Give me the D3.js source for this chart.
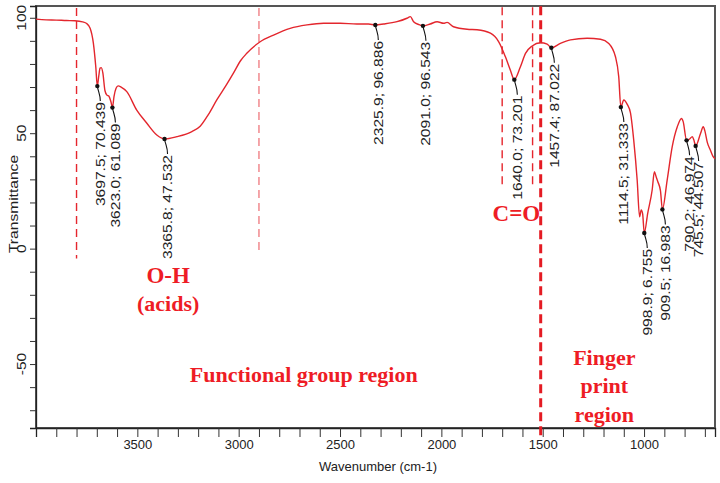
<!DOCTYPE html>
<html lang="en">
<head>
<meta charset="utf-8">
<title>FTIR spectrum</title>
<script src="https://cdn.jsdelivr.net/npm/d3@7"></script>
<style>
	body { margin: 0; background: #fff; }
	svg { display: block; }
</style>
</head>
<body>
<div id="chart"></div>
<script>

// spectrum (wavenumber in cm-1, transmittance in %)
var wavenumber = [4000, 3950, 3900, 3850, 3808, 3770, 3750, 3733, 3717, 3705, 3697.5, 3690, 3684, 3678, 3670,
	3660, 3650, 3640, 3630, 3623, 3615, 3605, 3595, 3580, 3552, 3503, 3454, 3404, 3365.8, 3305, 3231, 3190,
	3150, 3108, 3060, 3026, 2990, 2960, 2894, 2828, 2746, 2663, 2581, 2499, 2417, 2360, 2325.9, 2285, 2219,
	2170, 2153, 2137, 2110, 2091, 2055, 2021, 1989, 1972, 1940, 1873, 1824, 1758, 1717, 1684, 1660, 1640,
	1610, 1585, 1552, 1511, 1478, 1457.4, 1413, 1363, 1281, 1215, 1174, 1141, 1125, 1114.5, 1100, 1083,
	1067, 1051, 1034, 1022, 1014, 1007, 998.9, 982, 960, 949, 940, 932, 919, 909.5, 886, 861, 836, 815,
	807, 790.2, 775, 762, 754, 745.5, 721, 708, 700, 688, 672, 660, 650];
var transmittance = [99.4, 99.1, 99.0, 98.8, 98.7, 98.2, 97.5, 95.5, 89, 78.7, 70.4, 75, 78.2, 78.4, 76,
	68.5, 66.5, 66, 63.5, 61.1, 66, 69.5, 70.5, 70, 68, 60, 54.4, 49.2, 47.5, 48.5, 50.7, 53,
	58, 64.4, 71, 76, 81.5, 84.6, 89.6, 92.5, 95.4, 96.9, 97.6, 97.6, 97.3, 97.3, 96.9, 97.3, 98.3,
	99.8, 100.5, 98.3, 97, 96.5, 97.3, 98.3, 97.6, 98, 96.1, 95, 94.8, 93.3, 89.6, 83.1, 77.4, 73.2,
	78.8, 84.6, 87.8, 89.2, 88.6, 87.0, 88.9, 90.4, 91.1, 90.7, 88.9, 83.1, 74.5, 61.3, 64.4, 62.5,
	58.8, 47, 29.7, 13.8, 16.7, 15, 6.8, 15.3, 25.4, 33.3, 31, 29, 25, 17.0, 29.7, 44.2, 52.8, 56.4,
	55, 46.9, 47.5, 48.5, 47, 44.5, 50, 52.8, 51, 46, 42.5, 40, 39];

// picked peaks
var peakWn = [3697.5, 3623.0, 3365.8, 2325.9, 2091.0, 1640.0, 1457.4, 1114.5, 998.9, 909.5, 790.2, 745.5];
var peakT = [70.4, 61.1, 47.5, 96.9, 96.5, 73.2, 87.0, 61.3, 6.8, 17.0, 46.9, 44.5];
var peakLabels = ["3697.5; 70.439", "3623.0; 61.089", "3365.8; 47.532", "2325.9; 96.886", "2091.0; 96.543",
	"1640.0; 73.201", "1457.4; 87.022", "1114.5; 31.333", "998.9; 6.755", "909.5; 16.983",
	"790.2; 46.974", "745.5; 44.507"];

// axis ticks
var xTicks = d3.range(3900, 650, -100);
var xTickLabels = [3500, 3000, 2500, 2000, 1500, 1000];
var yTicks = d3.range(-70, 101, 10);
var yTickLabels = [100, 50, 0, -50];

// region marker lines (wavenumber, top and bottom in %)
var markerWn = [3800, 2900, 1700, 1550];
var markerTop = [104.2, 104.2, 104.6, 104.6];
var markerBottom = [-4.3, -1.2, 26.6, 26.6];
var splitWn = 1510;

// red notes (text, wavenumber, transmittance at baseline)
var noteText = ["O-H", "(acids)", "Functional group region", "C=O", "Finger", "print", "region"];
var noteWn = [3348, 3348, 2679, 1630, 1196, 1196, 1196];
var noteT = [-14.9, -27.0, -57.8, 12.0, -50.2, -62.6, -75.1];

var w = 720;
var h = 483;

var xScale = d3.scaleLinear()
	.domain([4000, 650])
	.range([36, 715]);
var yScale = d3.scaleLinear()
	.domain([-77.7, 105.1])
	.range([428, 6]);

var svg = d3.select("#chart")
	.append("svg")
	.attr("width", w)
	.attr("height", h)
	.style("font-family", "'Liberation Sans', Arial, sans-serif");

// frame
svg.append("rect")
	.attr("x", 36)
	.attr("y", 6)
	.attr("width", 679)
	.attr("height", 422)
	.attr("fill", "none")
	.attr("stroke", "#555")
	.attr("stroke-width", 2);

// x axis
var xAxis = d3.axisBottom(xScale)
	.tickValues(xTicks)
	.tickSize(9)
	.tickFormat(function(d) {
		return xTickLabels.indexOf(d) >= 0 ? d : "";
	});
var gx = svg.append("g")
	.attr("transform", "translate(0,428)")
	.call(xAxis);
gx.select(".domain").attr("stroke", "#222").attr("stroke-width", 1.3);
gx.selectAll(".tick line").attr("stroke", "#333");
gx.selectAll("text")
	.attr("font-family", "'Liberation Sans', Arial, sans-serif")
	.attr("font-size", "13px")
	.attr("fill", "#222");

// y axis, labels rotated by hand
var yAxis = d3.axisLeft(yScale)
	.tickValues(yTicks)
	.tickSize(6)
	.tickFormat("");
var gy = svg.append("g")
	.attr("transform", "translate(36,0)")
	.call(yAxis);
gy.select(".domain").attr("stroke", "#222").attr("stroke-width", 1.3);
gy.selectAll(".tick line").attr("stroke", "#333");

svg.selectAll(".ylab")
	.data(yTickLabels)
	.enter()
	.append("text")
	.attr("class", "ylab")
	.attr("transform", function(d) {
		return "translate(26," + yScale(d) + ") rotate(-90) scale(1.2,1)";
	})
	.attr("text-anchor", "middle")
	.attr("font-size", "13px")
	.attr("fill", "#222")
	.text(function(d) { return d; });

svg.append("text")
	.attr("transform", "translate(18,204) rotate(-90) scale(1.2,1)")
	.attr("text-anchor", "middle")
	.attr("font-size", "13px")
	.attr("fill", "#222")
	.text("Transmittance");

svg.append("text")
	.attr("x", 378)
	.attr("y", 471)
	.attr("text-anchor", "middle")
	.attr("font-size", "13px")
	.attr("fill", "#222")
	.text("Wavenumber (cm-1)");

// region lines
svg.selectAll(".marker")
	.data(markerWn)
	.enter()
	.append("line")
	.attr("class", "marker")
	.attr("x1", function(d) { return xScale(d); })
	.attr("x2", function(d) { return xScale(d); })
	.attr("y1", function(d, i) { return yScale(markerTop[i]); })
	.attr("y2", function(d, i) { return yScale(markerBottom[i]); })
	.attr("stroke", "#e41b23")
	.attr("stroke-width", 1.4)
	.attr("stroke-dasharray", "8,5")
	.attr("opacity", function(d, i) { return i === 1 ? 0.55 : 0.95; });

svg.append("line")
	.attr("x1", xScale(splitWn))
	.attr("x2", xScale(splitWn))
	.attr("y1", yScale(105))
	.attr("y2", 436)
	.attr("stroke", "#e41b23")
	.attr("stroke-width", 3)
	.attr("stroke-dasharray", "9,5");

// spectrum
var line = d3.line()
	.x(function(d, i) { return xScale(wavenumber[i]); })
	.y(function(d) { return yScale(d); })
	.curve(d3.curveMonotoneX);

svg.append("path")
	.datum(transmittance)
	.attr("d", line)
	.attr("fill", "none")
	.attr("stroke", "#e3262d")
	.attr("stroke-width", 1.4);

// peak markers, leaders and labels
var peaks = svg.selectAll(".peak")
	.data(peakWn)
	.enter()
	.append("g")
	.attr("class", "peak");

peaks.append("path")
	.attr("d", function(d, i) {
		var px = xScale(d), py = yScale(peakT[i]);
		return "M" + px + "," + py + " C" + (px + 1) + "," + (py + 6) + " " + (px + 3) + "," + (py + 8) + " " + (px + 3) + "," + (py + 15);
	})
	.attr("fill", "none")
	.attr("stroke", "#111")
	.attr("stroke-width", 1.1);

peaks.append("circle")
	.attr("cx", function(d) { return xScale(d); })
	.attr("cy", function(d, i) { return yScale(peakT[i]); })
	.attr("r", 2.2)
	.attr("fill", "#111");

peaks.append("text")
	.attr("transform", function(d, i) {
		return "translate(" + (xScale(d) + 7.5) + "," + (yScale(peakT[i]) + 16) + ") rotate(-90) scale(1.2,1)";
	})
	.attr("text-anchor", "end")
	.attr("font-size", "13px")
	.attr("fill", "#222")
	.text(function(d, i) { return peakLabels[i]; });

// red notes
svg.selectAll(".note")
	.data(noteText)
	.enter()
	.append("text")
	.attr("class", "note")
	.attr("x", function(d, i) { return xScale(noteWn[i]); })
	.attr("y", function(d, i) { return yScale(noteT[i]); })
	.attr("text-anchor", "middle")
	.attr("font-family", "'Liberation Serif', 'Times New Roman', serif")
	.attr("font-weight", "bold")
	.attr("font-size", function(d) { return (d === "O-H" || d === "C=O") ? "23px" : "22px"; })
	.attr("fill", "#ee1c25")
	.text(function(d) { return d; });

</script>
</body>
</html>
